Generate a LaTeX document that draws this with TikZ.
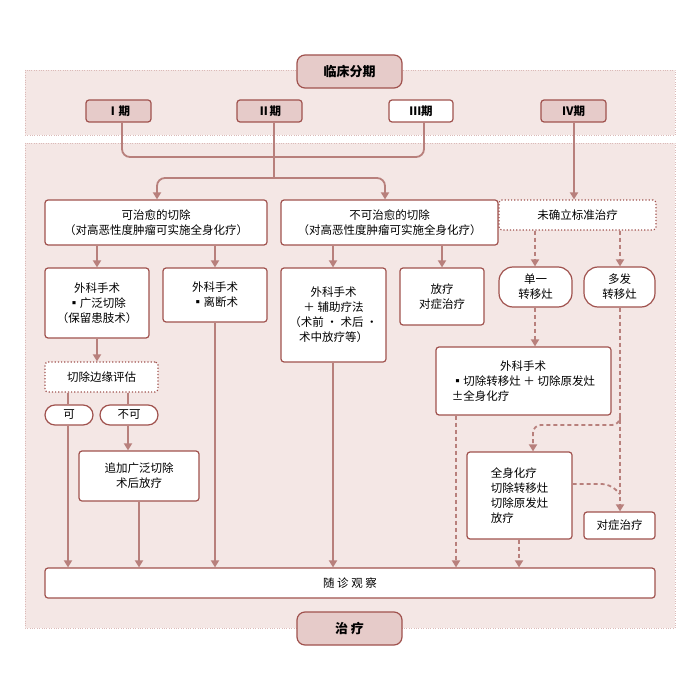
\documentclass[tikz,border=0pt]{standalone}
\usepackage{fontspec}
\setmainfont{Noto Sans CJK SC}
\usetikzlibrary{arrows.meta}
\definecolor{ln}{HTML}{B8807C}
\definecolor{bd}{HTML}{A0524E}
\definecolor{pk}{HTML}{E6CBC9}
\definecolor{bg}{HTML}{F4E7E5}
\begin{document}
\begin{tikzpicture}[x=1pt,y=-1pt,
 box/.style={draw=bd,line width=1.2pt,rounded corners=3pt,fill=white,align=center,inner sep=0pt,font=\fontsize{11.5}{15}\selectfont},
 dbox/.style={box,draw=bd,dotted,line width=1.2pt},
 stage/.style={box,fill=pk,font=\fontsize{11.5}{13}\selectfont\bfseries},
 pill/.style={box,rounded corners=10pt},
 ar/.style={draw=ln,line width=1.8pt,-{Triangle[length=7pt,width=8pt]},rounded corners=8pt},
 ln/.style={draw=ln,line width=1.8pt,rounded corners=8pt},
 dar/.style={ar,dashed,dash pattern=on 4pt off 3pt},
 dln/.style={ln,dashed,dash pattern=on 4pt off 3pt}]
\useasboundingbox (0,0) rectangle (700,700);
\fill[white] (0,0) rectangle (700,700);
\draw[bg!70!bd,dotted,fill=bg] (25,70) rectangle (675,135);
\draw[bg!70!bd,dotted,fill=bg] (25,143) rectangle (675,628);
% nodes
\node[stage,minimum width=105pt,minimum height=33pt,rounded corners=8pt,font=\fontsize{13}{15}\selectfont\bfseries] (cs) at (349.5,71.5) {临床分期};
\node[stage,minimum width=65pt,minimum height=22pt] (s1) at (118.5,111) {Ⅰ期};
\node[stage,minimum width=65pt,minimum height=22pt] (s2) at (269.5,111) {Ⅱ期};
\node[stage,fill=white,minimum width=64pt,minimum height=22pt] (s3) at (421,111) {Ⅲ期};
\node[stage,minimum width=65pt,minimum height=22pt] (s4) at (573.5,111) {Ⅳ期};
\node[box,minimum width=222pt,minimum height=45pt] (cur) at (156,222.5) {可治愈的切除\\（对高恶性度肿瘤可实施全身化疗）};
\node[box,minimum width=217pt,minimum height=45pt] (ncur) at (389.5,222.5) {不可治愈的切除\\（对高恶性度肿瘤可实施全身化疗）};
\node[dbox,minimum width=157pt,minimum height=30pt] (nst) at (577.5,215) {未确立标准治疗};
\node[box,minimum width=104pt,minimum height=70pt] (wide) at (97,303) {外科手术\\▪广泛切除\\（保留患肢术）};
\node[box,minimum width=104pt,minimum height=54pt] (amp) at (215,295) {外科手术\\▪离断术};
\node[box,minimum width=105pt,minimum height=94pt] (adj) at (333.5,315) {外科手术\\＋ 辅助疗法\\（术前 · 术后 ·\\术中放疗等）};
\node[box,minimum width=84pt,minimum height=57pt] (rad) at (442,296.5) {放疗\\对症治疗};
\node[pill,minimum width=73pt,minimum height=40pt,rounded corners=14pt] (sgl) at (535.5,287) {单一\\转移灶};
\node[pill,minimum width=71pt,minimum height=40pt,rounded corners=14pt] (mul) at (619.5,287) {多发\\转移灶};
\node[dbox,minimum width=113pt,minimum height=30pt] (mar) at (101.5,377) {切除边缘评估};
\node[pill,minimum width=48pt,minimum height=20pt] (ok) at (69,415) {可};
\node[pill,minimum width=58pt,minimum height=20pt] (ng) at (129,415) {不可};
\node[box,minimum width=120pt,minimum height=50pt] (add) at (139,476) {追加广泛切除\\术后放疗};
\node[box,minimum width=175pt,minimum height=68pt,align=left] (s4s) at (523.5,381) {\hspace*{4.2em}外科手术\\▪切除转移灶 ＋ 切除原发灶\\±全身化疗};
\node[box,minimum width=105pt,minimum height=87pt,align=left] (chem) at (519.5,495.5) {全身化疗\\切除转移灶\\切除原发灶\\放疗};
\node[box,minimum width=71pt,minimum height=27pt] (sym) at (619.5,525.5) {对症治疗};
\node[box,minimum width=610pt,minimum height=30pt] (fu) at (350,583) {随\ 诊\ 观\ 察};
\node[stage,minimum width=105pt,minimum height=33pt,rounded corners=8pt,font=\fontsize{13}{15}\selectfont\bfseries] (tr) at (349.5,628.5) {治\ 疗};
% connectors
\coordinate (j) at (274,178);
\draw[ln] (s1.south -| 122,0) -- (122,157) -- (424,157) -- (s3.south -| 424,0);
\draw[ln] (s2.south -| 274,0) -- (j);
\draw[ar] (j) -- (157,178) -- (cur.north -| 157,0);
\draw[ar] (j) -- (385,178) -- (ncur.north -| 385,0);
\draw[ar] (s4.south -| 574,0) -- (nst.north -| 574,0);
\draw[ar] (cur.south -| 97,0) -- (wide.north -| 97,0);
\draw[ar] (cur.south -| 215,0) -- (amp.north -| 215,0);
\draw[ar] (ncur.south -| 333,0) -- (adj.north -| 333,0);
\draw[ar] (ncur.south -| 442,0) -- (rad.north -| 442,0);
\draw[dar] (nst.south -| 535,0) -- (sgl.north -| 535,0);
\draw[dar] (nst.south -| 620,0) -- (mul.north -| 620,0);
\draw[ar] (wide.south -| 97,0) -- (mar.north -| 97,0);
\draw[ln] (mar.south -| 68,0) -- (ok.north -| 68,0);
\draw[ln] (mar.south -| 128,0) -- (ng.north -| 128,0);
\draw[ar] (ng.south -| 128,0) -- (add.north -| 128,0);
\draw[ar] (ok.south -| 68,0) -- (fu.north -| 68,0);
\draw[ar] (add.south -| 139,0) -- (fu.north -| 139,0);
\draw[ar] (amp.south -| 215,0) -- (fu.north -| 215,0);
\draw[ar] (adj.south -| 333,0) -- (fu.north -| 333,0);
\draw[dar] (sgl.south -| 535,0) -- (s4s.north -| 535,0);
\draw[dar] (mul.south -| 620,0) -- (sym.north -| 620,0);
\draw[dar] (620,420) -- (620,425) -- (533,425) -- (chem.north -| 533,0);
\draw[dln] (chem.east |- 0,484) -- (610,484) -- (620,494);
\draw[dar] (s4s.south -| 456,0) -- (fu.north -| 456,0);
\draw[dar] (chem.south -| 519,0) -- (fu.north -| 519,0);
\end{tikzpicture}
\end{document}
